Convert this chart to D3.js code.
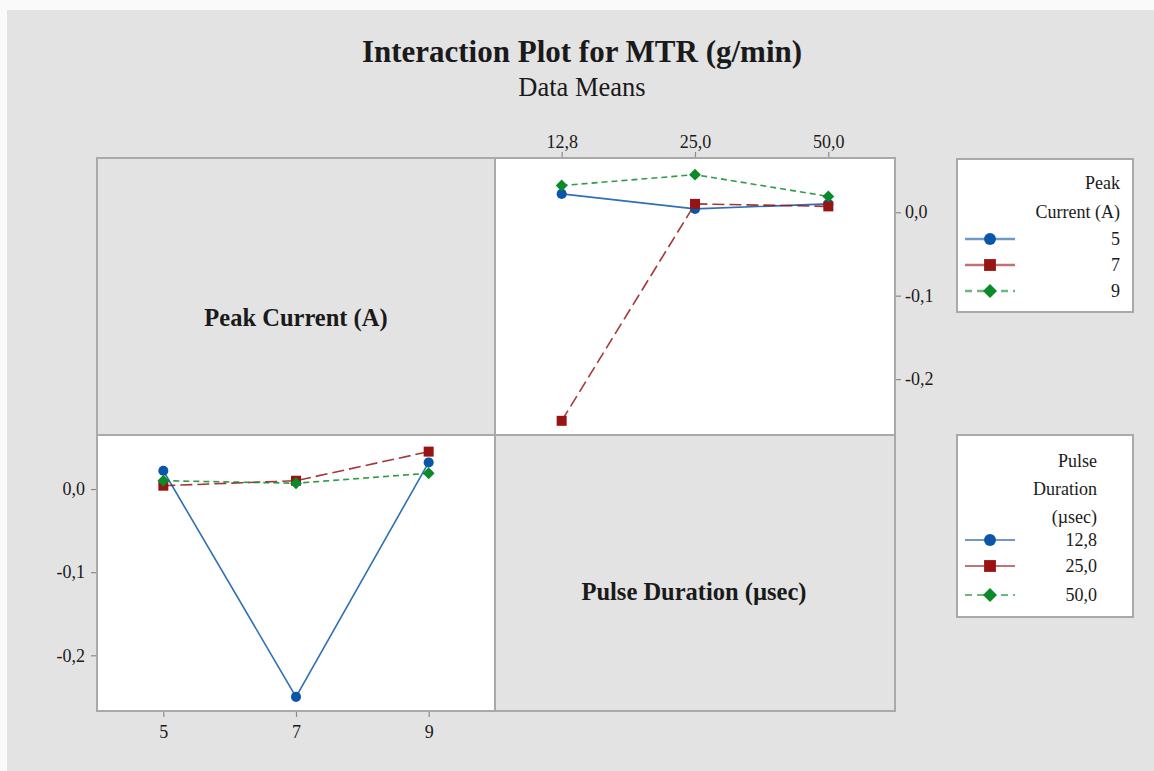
<!DOCTYPE html>
<html>
<head>
<meta charset="utf-8">
<script src="https://cdn.jsdelivr.net/npm/d3@7"></script>
<style>
  html, body { margin: 0; padding: 0; background: #ffffff; }
  svg { display: block; }
  text { font-family: "Liberation Serif", "Times New Roman", serif; fill: #1a1a1a; }
</style>
</head>
<body>
<svg id="chart" width="1154" height="771"></svg>
<script>
// ---------------- DATA ----------------
const titleText = "Interaction Plot for MTR (g/min)";
const subtitleText = "Data Means";
const peakCurrentLevels = ["5", "7", "9"];
const pulseDurationLevels = ["12,8", "25,0", "50,0"];
// Mean MTR for each Peak Current level, across Pulse Duration levels (12,8 / 25,0 / 50,0)
const mtrPeak5 = [0.022, 0.004, 0.010];
const mtrPeak7 = [-0.250, 0.010, 0.007];
const mtrPeak9 = [0.032, 0.045, 0.019];
const yTicks = [0, -0.1, -0.2];
const factorPeak = "Peak Current (A)";
const factorPulse = "Pulse Duration (µsec)";

// ---------------- STYLES ----------------
const colors = ["#0b56a8", "#981414", "#0a8a28"];
const dashes = [null, "12,5", "6,4"];
const symbols = [d3.symbolCircle, d3.symbolSquare, d3.symbolSquare];
const symRot = [0, 0, 45];
const symSizes = [80, 100, 70];

const svg = d3.select("#chart");
const W = 1154, H = 771;

svg.append("rect").attr("x", 0).attr("y", 0).attr("width", W).attr("height", H).attr("fill", "#fafafa");
svg.append("rect").attr("x", 7).attr("y", 10).attr("width", W - 7).attr("height", H - 10).attr("fill", "#e3e3e3");

// titles
svg.append("text").attr("x", 582).attr("y", 62).attr("text-anchor", "middle")
  .style("font-size", "31px").style("font-weight", "bold").text(titleText);
svg.append("text").attr("x", 582).attr("y", 96).attr("text-anchor", "middle")
  .style("font-size", "26.5px").text(subtitleText);

// grid geometry
const L = 97, MX = 495, R = 895, T = 158, MY = 435, B = 711;
const border = "#a9a9a9";

const yDomain = [-0.267, 0.065];
const yTop = d3.scaleLinear().domain(yDomain).range([MY, T]);
const yBot = d3.scaleLinear().domain(yDomain).range([B, MY]);
const xTop = d3.scalePoint().domain(pulseDurationLevels).range([MX, R]).padding(0.5);
const xBot = d3.scalePoint().domain(peakCurrentLevels).range([L, MX]).padding(0.5);

const fmt = v => (v === 0 ? "0,0" : d3.format(".1f")(v).replace(".", ",").replace("−", "-"));

// panels
svg.append("rect").attr("x", L).attr("y", T).attr("width", MX - L).attr("height", MY - T).attr("fill", "#e3e3e3");
svg.append("rect").attr("x", MX).attr("y", MY).attr("width", R - MX).attr("height", B - MY).attr("fill", "#e3e3e3");
svg.append("rect").attr("x", MX).attr("y", T).attr("width", R - MX).attr("height", MY - T).attr("fill", "#ffffff");
svg.append("rect").attr("x", L).attr("y", MY).attr("width", MX - L).attr("height", B - MY).attr("fill", "#ffffff");

// diagonal labels
svg.append("text").attr("x", 296).attr("y", 326).attr("text-anchor", "middle")
  .style("font-size", "24.5px").style("font-weight", "bold").text(factorPeak);
svg.append("text").attr("x", 694).attr("y", 600).attr("text-anchor", "middle")
  .style("font-size", "24.5px").style("font-weight", "bold").text(factorPulse);

// axes
function styleAxis(g) {
  g.select(".domain").remove();
  g.selectAll(".tick line").attr("stroke", "#8a8a8a").attr("stroke-width", 1.2);
  g.selectAll(".tick text").style("font-size", "18px").style("font-family", "Liberation Serif").attr("fill", "#1a1a1a");
}
svg.append("g").attr("transform", `translate(0,${T})`)
  .call(d3.axisTop(xTop).tickSize(6).tickPadding(4)).call(styleAxis);
svg.append("g").attr("transform", `translate(${R},0)`)
  .call(d3.axisRight(yTop).tickValues(yTicks).tickFormat(fmt).tickSize(6).tickPadding(4)).call(styleAxis);
svg.append("g").attr("transform", `translate(0,${B})`)
  .call(d3.axisBottom(xBot).tickSize(6).tickPadding(8)).call(styleAxis);
svg.append("g").attr("transform", `translate(${L},0)`)
  .call(d3.axisLeft(yBot).tickValues(yTicks).tickFormat(fmt).tickSize(6).tickPadding(6)).call(styleAxis);

// series
const peakSeries = [mtrPeak5, mtrPeak7, mtrPeak9];
const pulseSeries = pulseDurationLevels.map((_, j) => peakSeries.map(s => s[j]));

function drawSeries(seriesList, xLevels, x, y, clipId, x0, y0, w, h) {
  svg.append("clipPath").attr("id", clipId).append("rect").attr("x", x0).attr("y", y0).attr("width", w).attr("height", h);
  const g = svg.append("g").attr("clip-path", `url(#${clipId})`);
  seriesList.forEach((vals, i) => {
    const pts = vals.map((v, k) => [x(xLevels[k]), y(v)]);
    g.append("path").attr("d", d3.line()(pts)).attr("fill", "none")
      .attr("stroke", colors[i]).attr("stroke-width", 1.6).attr("stroke-opacity", 0.85)
      .attr("stroke-dasharray", dashes[i]);
  });
  seriesList.forEach((vals, i) => {
    vals.forEach((v, k) => {
      g.append("path").attr("d", d3.symbol().type(symbols[i]).size(symSizes[i])())
        .attr("transform", `translate(${x(xLevels[k])},${y(v)}) rotate(${symRot[i]})`).attr("fill", colors[i]);
    });
  });
}
drawSeries(peakSeries, pulseDurationLevels, xTop, yTop, "clipTop", MX, T, R - MX, MY - T);
drawSeries(pulseSeries, peakCurrentLevels, xBot, yBot, "clipBot", L, MY, MX - L, B - MY);

// grid borders
const bg = svg.append("g").attr("fill", "none").attr("stroke", border).attr("stroke-width", 2);
bg.append("rect").attr("x", L).attr("y", T).attr("width", R - L).attr("height", B - T);
bg.append("line").attr("x1", MX).attr("x2", MX).attr("y1", T).attr("y2", B);
bg.append("line").attr("x1", L).attr("x2", R).attr("y1", MY).attr("y2", MY);

// legends
function legend(x0, y0, w, h, titleLines, labels, textRight, rowY, lineW) {
  svg.append("rect").attr("x", x0).attr("y", y0).attr("width", w).attr("height", h)
    .attr("fill", "#ffffff").attr("stroke", border).attr("stroke-width", 2);
  titleLines.forEach((t, k) => {
    svg.append("text").attr("x", textRight).attr("y", rowY[k]).attr("dy", "0.35em")
      .attr("text-anchor", "end").style("font-size", "18px").text(t);
  });
  labels.forEach((lab, i) => {
    const yy = rowY[titleLines.length + i];
    svg.append("line").attr("x1", 965).attr("x2", 1015).attr("y1", yy).attr("y2", yy)
      .attr("stroke", colors[i]).attr("stroke-width", lineW).attr("stroke-opacity", 0.6)
      .attr("stroke-dasharray", i === 2 ? "7,5" : null);
    svg.append("path").attr("d", d3.symbol().type(symbols[i]).size(symSizes[i] * 1.4)())
      .attr("transform", `translate(990,${yy}) rotate(${symRot[i]})`).attr("fill", colors[i]);
    svg.append("text").attr("x", textRight).attr("y", yy).attr("dy", "0.35em")
      .attr("text-anchor", "end").style("font-size", "18px").text(lab);
  });
}
legend(957, 159, 176, 153, ["Peak", "Current (A)"], peakCurrentLevels, 1120, [183, 212, 239, 265, 291], 2.5);
legend(957, 435, 176, 182, ["Pulse", "Duration", "(µsec)"], pulseDurationLevels, 1097, [461, 489, 517, 540, 566, 595], 1.8);
</script>
</body>
</html>
